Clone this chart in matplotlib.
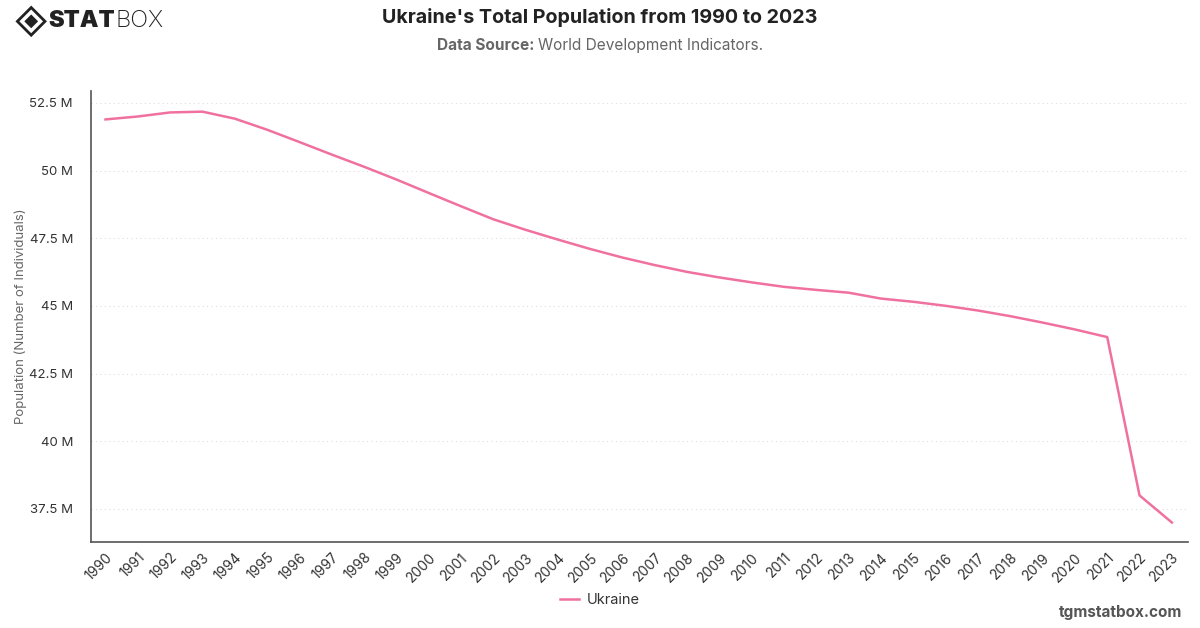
import matplotlib
matplotlib.use("Agg")
import matplotlib.pyplot as plt
from matplotlib.patches import Polygon
from matplotlib.ticker import FuncFormatter

years = list(range(1990, 2024))
population = [51.892, 52.000, 52.150, 52.179, 51.921, 51.512, 51.057, 50.594,
              50.144, 49.673, 49.176, 48.684, 48.203, 47.813, 47.452, 47.105,
              46.788, 46.509, 46.258, 46.053, 45.871, 45.706, 45.593, 45.490,
              45.272, 45.154, 45.005, 44.831, 44.623, 44.386, 44.132, 43.850,
              38.000, 37.000]
series_name = "Ukraine"
y_ticks = [37.5, 40, 42.5, 45, 47.5, 50, 52.5]

plt.rcParams['font.family'] = ['Inter', 'DejaVu Sans']

fig = plt.figure(figsize=(12, 6.28), dpi=100)
ax = fig.add_axes([0.0758, 0.137, 0.9142, 0.718])

line_color = '#F0719F'
ax.plot(years, population, color=line_color, lw=1.8, label=series_name)

ax.set_xlim(1989.55, 2023.5)
ax.set_ylim(36.28, 52.94)
ax.set_yticks(y_ticks)
ax.yaxis.set_major_formatter(FuncFormatter(lambda v, p: f"{v:g} M"))
ax.set_xticks(years)
ax.set_xticklabels([str(y) for y in years], rotation=45, ha='right',
                   rotation_mode='anchor', fontsize=10, color='#333333')
ax.tick_params(axis='y', labelsize=9.5, colors='#333333', length=0, pad=13)
ax.tick_params(axis='x', length=0, pad=6)
ax.grid(axis='y', color='#dddddd', linestyle=(0, (1, 3)), lw=0.8)
for s in ['top', 'right']:
    ax.spines[s].set_visible(False)
for s in ['left', 'bottom']:
    ax.spines[s].set_color('#555555')
    ax.spines[s].set_linewidth(1.2)
ax.set_ylabel("Population (Number of Individuals)", fontsize=9.5, color='#666666')
ax.yaxis.set_label_coords(-0.058, 0.5)

leg = fig.legend(loc='center', bbox_to_anchor=(0.5, 0.045), frameon=False,
                 fontsize=10.5, handlelength=1.3, handletextpad=0.5)
for t in leg.get_texts():
    t.set_color('#333333')

fig.text(0.5, 0.972, "Ukraine's Total Population from 1990 to 2023", ha='center', va='center',
         fontsize=14.2, fontweight='bold', color='#222222')

# subtitle: two parts centered together
t1 = fig.text(0, 0.928, "Data Source: ", ha='left', va='center', fontsize=11.1,
              fontweight='bold', color='#666666')
t2 = fig.text(0, 0.928, "World Development Indicators.", ha='left', va='center', fontsize=11.1,
              color='#666666')
fig.canvas.draw()
r = fig.canvas.get_renderer()
w1 = t1.get_window_extent(r).width / fig.bbox.width
w2 = t2.get_window_extent(r).width / fig.bbox.width
start = 0.5 - (w1 + w2) / 2
t1.set_x(start)
t2.set_x(start + w1)

fig.text(0.985, 0.025, "tgmstatbox.com", ha='right', va='center', fontsize=11,
         fontweight='bold', color='#555555')

# logo
lx, ly = 0.026, 0.966
dx, dy = 0.0115, 0.022
outer = Polygon([[lx - dx, ly], [lx, ly + dy], [lx + dx, ly], [lx, ly - dy]],
                closed=True, transform=fig.transFigure, facecolor='none',
                edgecolor='#222222', lw=2)
inner = Polygon([[lx - dx * 0.5, ly], [lx, ly + dy * 0.5], [lx + dx * 0.5, ly], [lx, ly - dy * 0.5]],
                closed=True, transform=fig.transFigure, facecolor='#222222', edgecolor='none')
fig.add_artist(outer)
fig.add_artist(inner)
ts = fig.text(0.0405, 0.966, "STAT", ha='left', va='center', fontsize=17,
              fontweight='black', color='#222222')
fig.canvas.draw()
bb = ts.get_window_extent(r)
fig.text(bb.x1 / fig.bbox.width, 0.966, "BOX", ha='left', va='center', fontsize=17,
         fontweight='light', color='#222222')

fig.savefig("out.png", dpi=100)
